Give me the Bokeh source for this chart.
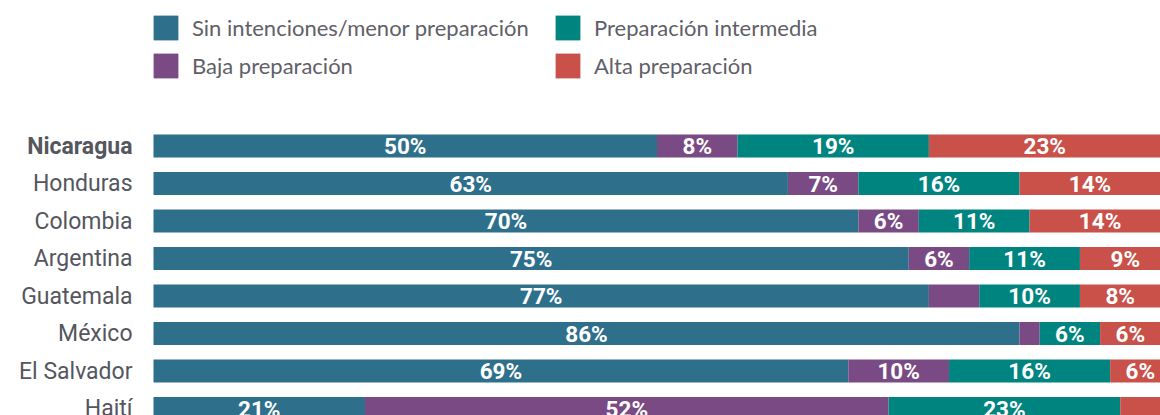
from bokeh.plotting import figure
from bokeh.models import ColumnDataSource, Range1d, Legend, LegendItem
from bokeh.core.properties import value
from bokeh.embed import file_html
from bokeh.resources import INLINE

countries = ["Nicaragua", "Honduras", "Colombia", "Argentina", "Guatemala", "México", "El Salvador", "Haití"]
sin_intenciones = [50, 63, 70, 75, 77, 86, 69, 21]
baja = [8, 7, 6, 6, 5, 2, 10, 52]
intermedia = [19, 16, 11, 11, 10, 6, 16, 23]
alta = [23, 14, 14, 9, 8, 6, 6, 4]
series_names = ["Sin intenciones/menor preparación", "Baja preparación", "Preparación intermedia", "Alta preparación"]
colors = ["#2e6f8c", "#7a4a85", "#00847f", "#c9514a"]
highlight = "Nicaragua"

W, H = 1160, 415
left_px = 153          # frame px from figure left to x=0
px_per_unit = 1007 / 100
pitch = 37.5           # px per category
top_px = 145.5         # px from frame top to first bar centre

x_range = Range1d(start=-left_px / px_per_unit, end=(W - left_px) / px_per_unit)
y_end = -top_px / pitch
y_start = y_end + H / pitch
y_range = Range1d(start=y_start, end=y_end)

p = figure(width=W, height=H, x_range=x_range, y_range=y_range,
           x_axis_type=None, y_axis_type=None,
           output_backend="svg", toolbar_location=None,
           min_border=0, min_border_left=0, min_border_right=0,
           min_border_top=0, min_border_bottom=0)
p.outline_line_color = None
p.grid.visible = False
p.background_fill_color = "white"
p.border_fill_color = "white"

ys = list(range(len(countries)))
all_series = [sin_intenciones, baja, intermedia, alta]
left = [0] * len(countries)
renderers = []
lab_x, lab_y, lab_t = [], [], []
for vals, name, col in zip(all_series, series_names, colors):
    right = [l + v for l, v in zip(left, vals)]
    src = ColumnDataSource(dict(y=ys, left=left, right=right))
    r = p.hbar(y="y", left="left", right="right", height=0.613, source=src,
               fill_color=col, line_color=None)
    renderers.append(r)
    for i, (l, v) in enumerate(zip(left, vals)):
        if v >= 6:
            lab_x.append(l + v / 2)
            lab_y.append(i)
            lab_t.append(f"{v}%")
    left = right

p.text(x=lab_x, y=lab_y, text=lab_t, text_color="white",
       text_font=value("Roboto"), text_font_size="22.5px", text_font_style="bold",
       text_align="center", text_baseline="middle")

name_src = ColumnDataSource(dict(
    x=[-21 / px_per_unit] * len(countries), y=ys, t=countries,
    st=["bold" if c == highlight else "normal" for c in countries]))
p.text(x="x", y="y", text="t", text_font_style="st", source=name_src,
       text_color="#55565e", text_font=value("Roboto"), text_font_size="23px",
       text_align="right", text_baseline="middle")

def make_legend(items, loc):
    lg = Legend(items=items, location=loc, orientation="vertical",
                glyph_width=31, glyph_height=31, label_standoff=11,
                spacing=7, padding=0, margin=0,
                border_line_color=None, background_fill_alpha=0,
                label_text_font="Lato", label_text_font_size="22px",
                label_text_color="#5f6068", label_height=31)
    return lg

lg1 = make_legend([LegendItem(label=series_names[0], renderers=[renderers[0]]),
                   LegendItem(label=series_names[1], renderers=[renderers[1]])], (150, 334))
lg2 = make_legend([LegendItem(label=series_names[2], renderers=[renderers[2]]),
                   LegendItem(label=series_names[3], renderers=[renderers[3]])], (552, 334))
p.add_layout(lg1)
p.add_layout(lg2)

open("out.html", "w").write(file_html(p, INLINE))
